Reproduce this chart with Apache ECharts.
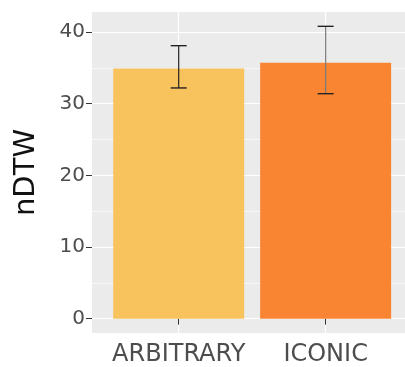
<!DOCTYPE html>
<html>
<head>
<meta charset="utf-8">
<script src="https://cdn.jsdelivr.net/npm/echarts@6/dist/echarts.min.js"></script>
<style>html,body{margin:0;padding:0;background:#fff}#c{width:405px;height:367px}</style>
</head>
<body>
<div id="c"></div>
<script>
const categories = ['ARBITRARY', 'ICONIC'];
const means = [34.9, 35.7];
const errLow = [32.2, 31.4];
const errHigh = [38.1, 40.8];
const barColors = ['#F8C35C', '#F98533'];
const yTicks = [0, 10, 20, 30, 40];
const yMinor = [5, 15, 25, 35];

const chart = echarts.init(document.getElementById('c'), null, {renderer: 'canvas'});
const xPos = categories.map((c, i) => i + 1);

const gridLines = [];
yTicks.forEach(v => gridLines.push({yAxis: v, lineStyle: {color: '#FFFFFF', width: 1.2, type: 'solid'}}));
yMinor.forEach(v => gridLines.push({yAxis: v, lineStyle: {color: '#FFFFFF', width: 0.6, type: 'solid'}}));
xPos.forEach(v => gridLines.push({xAxis: v, lineStyle: {color: '#FFFFFF', width: 1.2, type: 'solid'}}));

chart.setOption({
  animation: false,
  grid: {left: 92, top: 12, right: 0, height: 321, show: true, backgroundColor: '#EBEBEB', borderWidth: 0},
  xAxis: {
    type: 'value', min: 0.41, max: 2.54,
    splitLine: {show: false},
    axisLine: {show: false},
    axisTick: {show: true, length: 6, lineStyle: {color: '#333333'}, customValues: xPos},
    axisLabel: {customValues: xPos, formatter: v => categories[Math.round(v) - 1] || '',
      color: '#4D4D4D', fontSize: 24, fontFamily: 'DejaVu Sans', margin: 10}
  },
  yAxis: {
    type: 'value', min: -2, max: 42.8,
    name: 'nDTW', nameLocation: 'middle', nameRotate: 90, nameGap: 51,
    nameTextStyle: {color: '#111111', fontSize: 29, fontFamily: 'DejaVu Sans'},
    splitLine: {show: false},
    axisLine: {show: false},
    axisTick: {show: true, length: 6, lineStyle: {color: '#333333'}, customValues: yTicks},
    axisLabel: {customValues: yTicks, color: '#4D4D4D', fontSize: 20, fontFamily: 'DejaVu Sans', margin: 7}
  },
  series: [
    {
      type: 'line', data: [], z: 0, silent: true,
      markLine: {z: 0, silent: true, symbol: 'none', label: {show: false}, animation: false, data: gridLines}
    },
    {
      type: 'bar', z: 2, barWidth: 131,
      data: categories.map((c, i) => ({value: [xPos[i], means[i]], itemStyle: {color: barColors[i]}}))
    },
    {
      type: 'custom', z: 3,
      data: categories.map((c, i) => [xPos[i], errLow[i], errHigh[i]]),
      renderItem: function (params, api) {
        const x = api.value(0);
        const lo = api.coord([x, api.value(1)]);
        const hi = api.coord([x, api.value(2)]);
        const hw = 8;
        const stemColor = params.dataIndex === 0 ? '#222222' : '#7a7a7a';
        return {type: 'group', children: [
          {type: 'line', shape: {x1: lo[0], y1: lo[1], x2: hi[0], y2: hi[1]}, style: {stroke: stemColor, lineWidth: 1.2}},
          {type: 'line', shape: {x1: lo[0] - hw, y1: lo[1], x2: lo[0] + hw, y2: lo[1]}, style: {stroke: '#222222', lineWidth: 1.4}},
          {type: 'line', shape: {x1: hi[0] - hw, y1: hi[1], x2: hi[0] + hw, y2: hi[1]}, style: {stroke: '#222222', lineWidth: 1.4}}
        ]};
      }
    }
  ]
});
</script>
</body>
</html>
